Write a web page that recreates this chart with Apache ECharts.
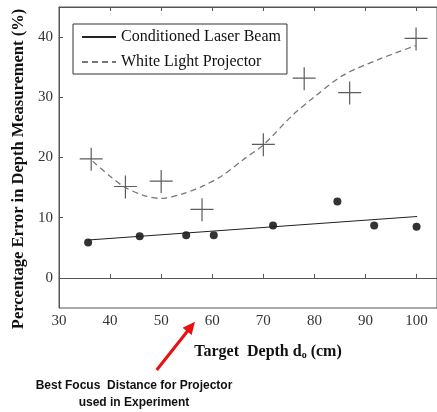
<!DOCTYPE html>
<html>
<head>
<meta charset="utf-8">
<script src="https://cdn.jsdelivr.net/npm/echarts@6/dist/echarts.min.js"></script>
<style>
  html, body { margin: 0; padding: 0; background: #fff; }
  #main { width: 437px; height: 412px; }
</style>
</head>
<body>
<div id="main"></div>
<script>
// tick labels
var depthTicks = [30, 40, 50, 60, 70, 80, 90, 100];
var errTicks = [0, 10, 20, 30, 40];

// measured points
var laserDepth = [35.7, 45.8, 54.9, 60.3, 71.9, 84.5, 91.7, 100.0];
var laserErr   = [5.9, 6.9, 7.1, 7.1, 8.7, 12.7, 8.7, 8.5];
var projDepth  = [36.3, 43.0, 50.0, 58.0, 70.0, 78.0, 86.9, 99.9];
var projErr    = [19.7, 15.1, 16.0, 11.3, 22.1, 33.1, 30.7, 39.7];

// fitted curves
var laserFitDepth = [35.7, 100.1];
var laserFitErr   = [6.3, 10.2];
var projFitDepth = [36.6, 40, 43, 47, 50, 54, 58, 62, 66, 70, 75.7, 79.6, 85.5, 92.6, 99.9];
var projFitErr   = [19.4, 16.9, 15.0, 13.6, 13.2, 13.9, 15.2, 17.0, 19.6, 22.1, 27.0, 29.8, 33.6, 36.3, 38.6];

function pairs(xs, ys) {
  return xs.map(function (x, i) { return [x, ys[i]]; });
}

var serif = 'Liberation Serif';
var crossPath = 'path://M0,10.4H23V11.6H0Z M10.9,0H12.1V23H10.9Z';

var chartDom = document.getElementById('main');
var myChart = echarts.init(chartDom);

var option = {
  animation: false,
  backgroundColor: '#fff',
  grid: {
    left: 59, right: -1, top: 7, bottom: 104,
    show: true, borderColor: '#555', borderWidth: 1
  },
  legend: {
    data: ['Conditioned Laser Beam', 'White Light Projector'],
    orient: 'vertical',
    left: 73, top: 24,
    padding: [5, 6, 4, 8],
    itemWidth: 34, itemHeight: 14, itemGap: 9,
    borderColor: '#333', borderWidth: 1,
    itemStyle: { opacity: 0 },
    textStyle: { fontFamily: serif, fontSize: 16, color: '#111' }
  },
  xAxis: [{
    type: 'value', min: 30, max: 104, interval: 10,
    splitLine: { show: false },
    axisLine: { lineStyle: { color: '#555' } },
    axisTick: { inside: true, length: 4, customValues: depthTicks, lineStyle: { color: '#555' } },
    axisLabel: { customValues: depthTicks, fontFamily: serif, fontSize: 15, color: '#333', margin: 6 },
    name: 'Target  Depth d{sub|o} (cm)',
    nameLocation: 'middle', nameGap: 36,
    nameTextStyle: {
      fontFamily: serif, fontSize: 16, fontWeight: 'bold', color: '#111',
      padding: [0, 0, 0, 40],
      rich: { sub: { fontFamily: serif, fontSize: 10, fontWeight: 'bold', color: '#111', verticalAlign: 'bottom', padding: [6, 0, 0, 0] } }
    }
  }, {
    type: 'value', position: 'top', min: 30, max: 104, interval: 10,
    splitLine: { show: false },
    axisLine: { lineStyle: { color: '#555' } },
    axisTick: { inside: true, length: 4, customValues: depthTicks, lineStyle: { color: '#555' } },
    axisLabel: { show: false }
  }],
  yAxis: {
    type: 'value', min: -5, max: 45, interval: 5,
    splitLine: { show: false },
    axisLine: { show: true, lineStyle: { color: '#555' } },
    axisTick: { show: true, inside: true, length: 4, customValues: errTicks, lineStyle: { color: '#555' } },
    axisLabel: { customValues: errTicks, fontFamily: serif, fontSize: 15, color: '#333', margin: 6 },
    name: 'Percentage Error in Depth Measurement (%)',
    nameLocation: 'middle', nameGap: 25, nameRotate: 90,
    nameTextStyle: { fontFamily: serif, fontSize: 16.5, fontWeight: 'bold', color: '#111', padding: [0, 23, 0, 0] }
  },
  series: [
    {
      name: 'White Light Projector', type: 'line', smooth: 0.3,
      symbol: 'none',
      data: pairs(projFitDepth, projFitErr),
      lineStyle: { color: '#777', width: 1.3, type: [6, 4] },
      itemStyle: { color: '#777' }
    },
    {
      name: 'Conditioned Laser Beam', type: 'line',
      symbol: 'none',
      data: pairs(laserFitDepth, laserFitErr),
      lineStyle: { color: '#222', width: 1.2 },
      itemStyle: { color: '#222' }
    },
    {
      name: 'Projector data', type: 'scatter',
      symbol: crossPath, symbolSize: 23,
      data: pairs(projDepth, projErr),
      itemStyle: { color: '#333' }
    },
    {
      name: 'Laser data', type: 'scatter',
      symbol: 'circle', symbolSize: 8,
      data: pairs(laserDepth, laserErr),
      itemStyle: { color: '#000' }
    }
  ],
  graphic: [
    {
      type: 'line',
      shape: { x1: 156.7, y1: 370, x2: 188, y2: 330.5 },
      style: { stroke: '#e81010', lineWidth: 3 }
    },
    {
      type: 'polygon',
      shape: { points: [[195, 321.7], [191.6, 335], [182.6, 327.8]] },
      style: { fill: '#e81010' }
    },
    {
      type: 'text', x: 134, y: 377,
      style: {
        text: 'Best Focus  Distance for Projector\nused in Experiment',
        fontFamily: 'Liberation Sans', fontSize: 12, fontWeight: 'bold',
        fill: '#111', align: 'center', verticalAlign: 'top', lineHeight: 17
      }
    }
  ]
};

myChart.setOption(option);

window.addEventListener('resize', myChart.resize);
</script>
</body>
</html>
